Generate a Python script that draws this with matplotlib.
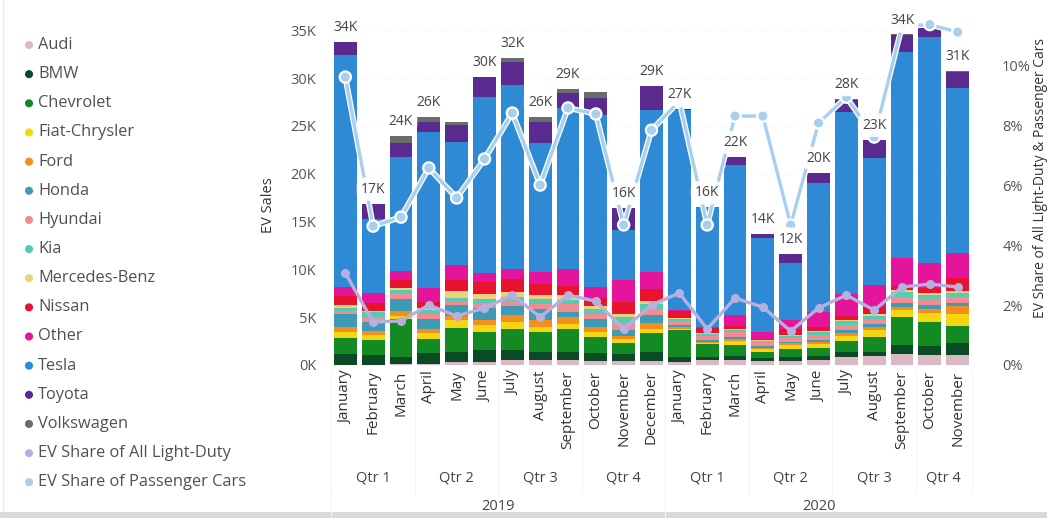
import matplotlib
matplotlib.use("Agg")
import matplotlib.pyplot as plt
import numpy as np
from matplotlib import transforms
from matplotlib.ticker import FuncFormatter, MultipleLocator
import matplotlib.patheffects as pe

plt.rcParams['font.family'] = ['Open Sans', 'DejaVu Sans']

# ---------------- data ----------------
month_names = ["January", "February", "March", "April", "May", "June", "July",
               "August", "September", "October", "November", "December",
               "January", "February", "March", "April", "May", "June", "July",
               "August", "September", "October", "November"]
month_years = [2019] * 12 + [2020] * 11
month_nums = list(range(1, 13)) + list(range(1, 12))

brands = ["Audi", "BMW", "Chevrolet", "Fiat-Chrysler", "Ford", "Honda", "Hyundai",
          "Kia", "Mercedes-Benz", "Nissan", "Other", "Tesla", "Toyota", "Volkswagen"]

# EV sales in thousands
audi = [0.05, 0.05, 0.1, 0.1, 0.35, 0.35, 0.5, 0.5, 0.5, 0.4, 0.4, 0.4,
        0.35, 0.5, 0.5, 0.4, 0.45, 0.5, 0.8, 0.9, 1.1, 1.0, 1.0]
bmw = [1.05, 1.0, 0.7, 1.2, 1.0, 1.2, 1.1, 0.9, 0.85, 0.85, 0.8, 1.0,
       0.5, 0.35, 0.45, 0.3, 0.35, 0.4, 0.55, 0.5, 1.0, 1.0, 1.35]
chevrolet = [1.75, 1.55, 4.0, 1.4, 2.5, 1.9, 2.2, 2.0, 2.45, 1.7, 1.05, 1.9,
             2.8, 1.3, 1.1, 0.65, 0.9, 0.9, 1.2, 1.55, 2.9, 2.45, 1.75]
fiat_chrysler = [0.6, 0.5, 0.35, 0.6, 0.85, 0.7, 0.7, 0.6, 0.5, 0.5, 0.5, 0.5,
                 0.15, 0.15, 0.45, 0.3, 0.35, 0.35, 0.5, 0.7, 0.7, 1.0, 1.2]
ford = [0.55, 0.45, 0.45, 0.5, 0.45, 0.6, 0.75, 0.75, 0.7, 0.5, 0.3, 0.55,
        0.15, 0.15, 0.2, 0.15, 0.2, 0.3, 0.3, 0.35, 0.4, 0.4, 0.85]
honda = [1.3, 0.9, 1.3, 1.0, 1.1, 1.2, 0.9, 1.1, 0.55, 0.9, 0.65, 0.9,
         0.2, 0.15, 0.2, 0.15, 0.15, 0.2, 0.3, 0.3, 0.4, 0.4, 0.35]
hyundai = [0.35, 0.6, 0.6, 0.5, 0.4, 0.5, 0.5, 0.5, 0.85, 0.5, 0.65, 0.6,
           0.5, 0.4, 0.5, 0.45, 0.45, 0.5, 0.5, 0.5, 0.6, 0.6, 0.6]
kia = [0.35, 0.45, 0.35, 0.4, 0.35, 0.4, 0.5, 0.5, 0.4, 0.5, 0.7, 0.5,
       0.15, 0.2, 0.25, 0.15, 0.2, 0.25, 0.45, 0.35, 0.5, 0.5, 0.45]
mercedes = [0.25, 0.15, 0.2, 0.3, 0.7, 0.6, 0.5, 0.5, 0.5, 0.35, 0.25, 0.3,
            0.1, 0.1, 0.15, 0.1, 0.1, 0.15, 0.15, 0.15, 0.2, 0.2, 0.15]
nissan = [1.0, 0.85, 0.85, 0.6, 1.2, 1.2, 1.35, 1.1, 1.0, 0.85, 1.3, 1.3,
          0.7, 0.6, 0.3, 0.1, 0.6, 0.4, 0.4, 0.75, 0.5, 0.5, 1.4]
other = [0.9, 1.05, 0.95, 1.45, 1.6, 1.0, 1.05, 1.3, 1.75, 1.1, 2.3, 1.8,
         0.1, 0.05, 1.1, 0.75, 1.0, 1.6, 2.3, 2.35, 2.9, 2.6, 2.6]
tesla = [24.3, 7.75, 11.9, 16.3, 12.8, 18.35, 19.2, 13.45, 16.8, 17.95, 5.2, 16.9,
         20.95, 12.45, 15.7, 9.77, 5.9, 13.45, 18.95, 13.2, 21.5, 23.65, 17.25]
toyota = [1.35, 1.57, 1.46, 1.05, 1.8, 2.1, 2.4, 2.2, 1.55, 1.8, 2.3, 2.5,
          0.1, 0.05, 0.8, 0.4, 0.95, 1.05, 1.35, 1.9, 1.8, 1.05, 1.7]
volkswagen = [0.0, 0.0, 0.7, 0.5, 0.3, 0.05, 0.4, 0.5, 0.5, 0.6, 0.05, 0.05,
              0.05, 0.05, 0.05, 0.05, 0.05, 0.05, 0.05, 0.05, 0.05, 0.05, 0.05]

# EV share (%)
share_light_duty = [3.07, 1.43, 1.47, 2.0, 1.63, 1.9, 2.33, 1.6, 2.33, 2.13, 1.2, 2.0,
                    2.4, 1.2, 2.23, 1.93, 1.13, 1.9, 2.33, 1.83, 2.6, 2.7, 2.6]
share_passenger = [9.6, 4.63, 4.93, 6.57, 5.57, 6.87, 8.4, 6.0, 8.57, 8.37, 4.67, 7.83,
                   8.8, 4.67, 8.3, 8.3, 4.67, 8.07, 8.93, 7.6, 11.3, 11.35, 11.1]

# total labels shown (None = hidden)
total_labels = ["34K", "17K", "24K", "26K", None, "30K", "32K", "26K", "29K", None,
                "16K", "29K", "27K", "16K", "22K", "14K", "12K", "20K", "28K", "23K",
                "34K", None, "31K"]

series = [audi, bmw, chevrolet, fiat_chrysler, ford, honda, hyundai, kia,
          mercedes, nissan, other, tesla, toyota, volkswagen]
colors = ["#DAB9C5", "#0A4A24", "#148A22", "#F6D511", "#F3901D", "#3D9BB5",
          "#F18C90", "#55CBB4", "#EDD27C", "#E8132C", "#E4159B", "#2F8AD5",
          "#5B2A8F", "#6A6B6B"]
line_colors = {"EV Share of All Light-Duty": "#B6B0DF",
               "EV Share of Passenger Cars": "#A8D0EE"}

# ---------------- figure ----------------
W, H = 1047, 518
fig = plt.figure(figsize=(W / 100, H / 100), dpi=100)
fig.patch.set_facecolor("white")

ax_l, ax_r, ax_b, ax_t = 330, 973, 365, 12
ax = fig.add_axes([ax_l / W, 1 - ax_b / H, (ax_r - ax_l) / W, (ax_b - ax_t) / H])
ax2 = ax.twinx()

x = np.arange(len(month_names))
bottom = np.zeros(len(x))
for vals, col in zip(series, colors):
    v = np.array(vals)
    ax.bar(x, v, 0.82, bottom=bottom, color=col, linewidth=0, zorder=2)
    bottom += v
totals = bottom

ax.set_xlim(-0.55, len(x) - 0.45)
ax.set_ylim(0, 36.9)
ax2.set_ylim(0, 11.77)

ax.yaxis.set_major_locator(MultipleLocator(5))
ax.yaxis.set_major_formatter(FuncFormatter(lambda v, p: f"{v:.0f}K"))
ax2.yaxis.set_major_locator(MultipleLocator(2))
ax2.yaxis.set_major_formatter(FuncFormatter(lambda v, p: f"{v:.0f}%"))
for a in (ax, ax2):
    for s in a.spines.values():
        s.set_visible(False)
ax.tick_params(axis="y", length=0, pad=10, labelsize=10.5, labelcolor="#555555")
ax2.tick_params(axis="y", length=0, pad=21, labelsize=10.5, labelcolor="#555555")
ax.set_xticks(x)
ax.set_xticklabels(month_names, rotation=90, fontsize=11, color="#333333")
ax.tick_params(axis="x", length=0, pad=4)
ax.grid(axis="y", color="#F0F0F0", linestyle=(0, (1, 2)), linewidth=0.8, zorder=0)
ax.set_axisbelow(True)

# lines
ax2.plot(x, share_light_duty, color=line_colors["EV Share of All Light-Duty"], lw=2.4,
         marker="o", ms=5.5, zorder=4, solid_joinstyle="round")
ax2.plot(x, share_passenger, color=line_colors["EV Share of Passenger Cars"], lw=2.4,
         marker="o", ms=5.5, zorder=4, solid_joinstyle="round",
         path_effects=[pe.Stroke(linewidth=4.2, foreground="white"), pe.Normal()])

# total labels (drawn above lines)
for xi, t, lab in zip(x, totals, total_labels):
    if lab is None:
        continue
    ax2.annotate(lab, xy=(xi, t), xycoords=ax.transData, xytext=(0, 5),
                 textcoords="offset points", ha="center", va="bottom",
                 fontsize=10, color="#444444", zorder=6,
                 bbox=dict(boxstyle="round,pad=0.3,rounding_size=0.6",
                           fc="white", ec="none", alpha=0.92))

# axis titles
fig.text(268 / W, 1 - 205 / H, "EV Sales", rotation=90, ha="center", va="center",
         fontsize=10.5, color="#333333")
fig.text(1040 / W, 1 - 178 / H, "EV Share of All Light-Duty & Passenger Cars",
         rotation=90, ha="center", va="center", fontsize=10, color="#333333")

# hierarchical x labels: quarters and years
trans = transforms.blended_transform_factory(ax.transData, fig.transFigure)
sep_color = "#F3F3F3"
quarter_ids = [(yv, (m - 1) // 3 + 1) for yv, m in zip(month_years, month_nums)]
groups = []
for i, q in enumerate(quarter_ids):
    if not groups or groups[-1][0] != q:
        groups.append([q, i, i])
    else:
        groups[-1][2] = i
for (yv, qn), i0, i1 in groups:
    ax.text((i0 + i1) / 2, 1 - 478 / H, f"Qtr {qn}", transform=trans, ha="center",
            va="center", fontsize=10.5, color="#444444", clip_on=False)
    ax.plot([i0 - 0.5, i0 - 0.5], [1 - 370 / H, 1 - 494 / H], transform=trans,
            color=sep_color, lw=0.8, clip_on=False)
ax.plot([len(x) - 0.5] * 2, [1 - 370 / H, 1 - 494 / H], transform=trans,
        color=sep_color, lw=0.8, clip_on=False)
for yv in sorted(set(month_years)):
    idx = [i for i, y_ in enumerate(month_years) if y_ == yv]
    ax.text((idx[0] + idx[-1]) / 2, 1 - 507 / H, str(yv), transform=trans, ha="center",
            va="center", fontsize=10.5, color="#444444", clip_on=False)
    ax.plot([idx[0] - 0.5] * 2, [1 - 494 / H, 0], transform=trans,
            color=sep_color, lw=0.8, clip_on=False)

# legend (manual, left side)
lax = fig.add_axes([0, 0, 1, 1], zorder=-1)
lax.set_xlim(0, W)
lax.set_ylim(H, 0)
lax.axis("off")
legend_items = list(zip(brands, colors)) + list(line_colors.items())
y0, dy = 45, 29.15
for k, (name, col) in enumerate(legend_items):
    yy = y0 + k * dy
    lax.scatter([29], [yy], s=34, color=col, edgecolors="none")
    lax.text(38, yy, name, ha="left", va="center", fontsize=11.8, color="#505050")

# frame shadow at bottom / left
lax.add_patch(plt.Rectangle((0, H - 6), W, 6, color="#D9D9D9", lw=0))
lax.plot([3, 3], [0, H - 6], color="#EEEEEE", lw=1)

fig.savefig("out.png", dpi=100, facecolor="white")
